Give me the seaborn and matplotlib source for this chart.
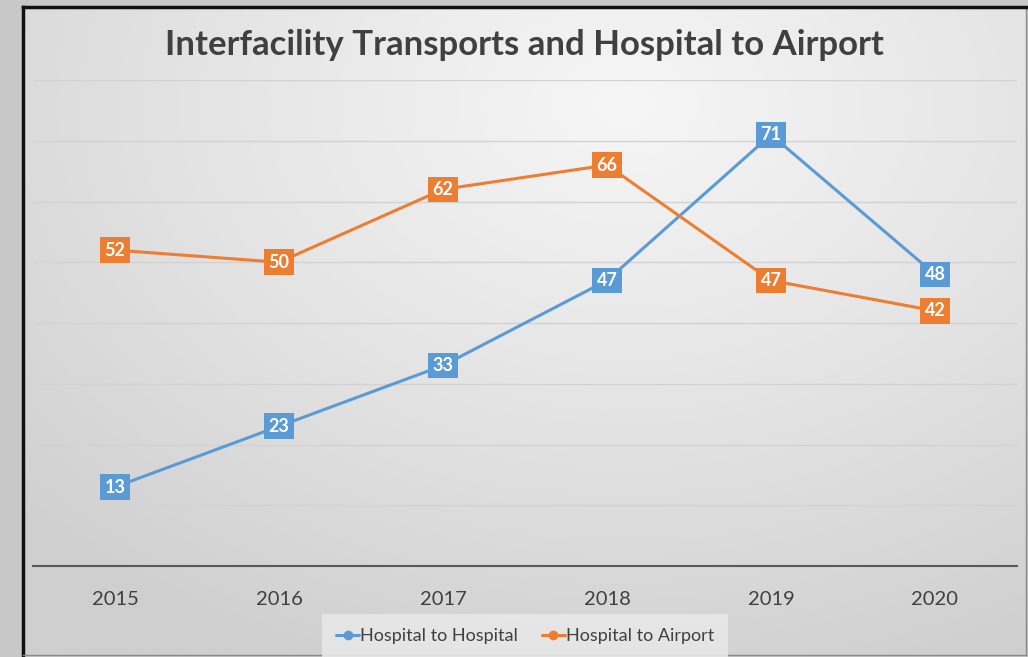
import numpy as np
import pandas as pd
import matplotlib.pyplot as plt
import seaborn as sns
from matplotlib.colors import LinearSegmentedColormap

years = [2015, 2016, 2017, 2018, 2019, 2020]
hosp_to_hosp = [13, 23, 33, 47, 71, 48]
hosp_to_air = [52, 50, 62, 66, 47, 42]
series_names = ['Hospital to Hospital', 'Hospital to Airport']
colors = ['#5b9bd5', '#ed7d31']

df = pd.DataFrame({
    'Year': years * 2,
    'Count': hosp_to_hosp + hosp_to_air,
    'Series': [series_names[0]] * len(years) + [series_names[1]] * len(years),
})

sns.set_theme(style='white')
plt.rcParams['font.family'] = ['Lato', 'DejaVu Sans']

W, H = 1028, 657
fig = plt.figure(figsize=(W / 100, H / 100), dpi=100, facecolor='#c8c8c8')

# panel with radial gradient
bg = fig.add_axes([23 / W, 2 / H, (1026 - 23) / W, 648 / H])
yy, xx = np.mgrid[0:1:300j, 0:1:500j]
r = np.sqrt(((xx - 0.6) * 1.0) ** 2 + ((yy - 0.15) * 0.9) ** 2)
grad = np.clip(r / 0.85, 0, 1)
cmap = LinearSegmentedColormap.from_list('g', ['#f6f6f6', '#e4e4e4', '#cfcfcf'])
bg.imshow(grad, cmap=cmap, aspect='auto', extent=[0, 1, 0, 1], origin='upper')
bg.set_xticks([])
bg.set_yticks([])
for s in ['left', 'top']:
    bg.spines[s].set_color('#111111')
    bg.spines[s].set_linewidth(2.5)
for s in ['right', 'bottom']:
    bg.spines[s].set_color('#8a8a8a')
    bg.spines[s].set_linewidth(1)

# main chart
ax = fig.add_axes([33 / W, (H - 566) / H, 984 / W, 486 / H])
ax.patch.set_alpha(0)
sns.lineplot(data=df, x='Year', y='Count', hue='Series', palette=colors,
             marker='o', markersize=7, markeredgewidth=0, linewidth=2.2, ax=ax)

ax.set_xlim(2014.5, 2020.5)
ax.set_ylim(0, 80)
ax.set_yticks(range(10, 81, 10))
ax.yaxis.grid(True, color='#d2d2d2', linewidth=1)
ax.set_axisbelow(True)
ax.tick_params(axis='y', left=False, labelleft=False)
ax.set_xticks(years)
ax.set_xticklabels([str(y) for y in years])
ax.tick_params(axis='x', length=0, pad=18, labelsize=14.5, labelcolor='#404040')
ax.set_xlabel('')
ax.set_ylabel('')
for s in ['left', 'top', 'right']:
    ax.spines[s].set_visible(False)
ax.spines['bottom'].set_color('#595959')
ax.spines['bottom'].set_linewidth(1.5)

# data labels
for vals, c in zip([hosp_to_hosp, hosp_to_air], colors):
    for x, v in zip(years, vals):
        ax.text(x, v, str(v), ha='center', va='center', color='white',
                fontsize=13, fontweight='bold',
                bbox=dict(boxstyle='square,pad=0.24', fc=c, ec='none'))

handles, labels = ax.get_legend_handles_labels()
leg = ax.legend(handles, labels, loc='center', bbox_to_anchor=(0.5, -0.144),
                ncol=2, frameon=True, fontsize=13, handlelength=1.3,
                handletextpad=0.05, columnspacing=1.3, borderpad=0.45)
leg.get_frame().set_facecolor('#e8e8e8')
leg.get_frame().set_edgecolor('none')
leg.get_frame().set_alpha(0.9)
leg.get_frame().set_boxstyle('square')
for t in leg.get_texts():
    t.set_color('#404040')

fig.text(524 / W, 1 - 45 / H, 'Interfacility Transports and Hospital to Airport',
         ha='center', va='center', fontsize=25, fontweight='bold', color='#404040')

fig.savefig('out.png', dpi=100, facecolor=fig.get_facecolor())
